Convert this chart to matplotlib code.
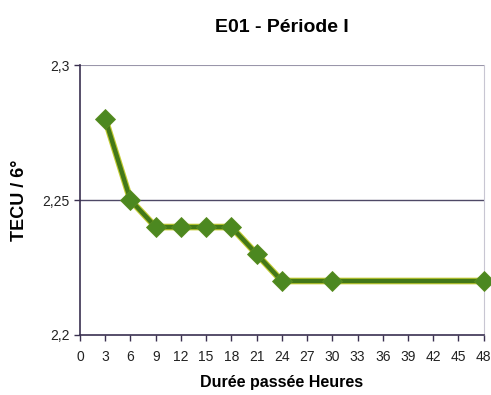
import matplotlib.pyplot as plt
import matplotlib.patheffects as pe

plt.rcParams['font.family'] = ['Liberation Sans', 'DejaVu Sans']

# TECU values over the elapsed hours
heures = [3, 6, 9, 12, 15, 18, 21, 24, 30, 48]
tecu = [2.28, 2.25, 2.24, 2.24, 2.24, 2.24, 2.23, 2.22, 2.22, 2.22]
x_ticks = list(range(0, 49, 3))
y_ticks = [2.2, 2.25, 2.3]
y_labels = ["2,2", "2,25", "2,3"]

fig = plt.figure(figsize=(4.91, 3.95), dpi=100)
ax = fig.add_axes([0.163, 0.152, 0.822, 0.683])

ax.axhline(2.25, color="#4e4866", lw=1.0, zorder=1)
ax.axhline(2.3, color="#9a96aa", lw=0.8, zorder=1)

# line with a thin yellowish rim, then plain diamonds on top
ax.plot(heures, tecu, color="#437818", lw=3.2, zorder=3, clip_on=False,
        path_effects=[pe.Stroke(linewidth=4.8, foreground="#c4cc34"), pe.Normal()])
ax.plot(heures, tecu, ls="none", marker="D", ms=10,
        markerfacecolor="#4c8820", markeredgecolor="#5a8c20", markeredgewidth=0.6,
        zorder=4, clip_on=False)

ax.set_xlim(0, 48)
ax.set_ylim(2.2, 2.3)
ax.set_xticks(x_ticks)
ax.set_yticks(y_ticks)
ax.set_yticklabels(y_labels)
ax.tick_params(axis="both", labelsize=10, length=4, color="#3a3050", width=1)
ax.tick_params(axis="x", pad=7)
for lbl in ax.get_xticklabels() + ax.get_yticklabels():
    lbl.set_color("#222222")

ax.spines["top"].set_visible(False)
ax.spines["right"].set_color("#c8c6d2")
ax.spines["right"].set_linewidth(0.8)
for side in ["left", "bottom"]:
    ax.spines[side].set_color("#3a3050")
    ax.spines[side].set_linewidth(1.2)

ax.set_title("E01 - Période I", fontsize=14, fontweight="bold", pad=24)
ax.set_ylabel("TECU / 6°", fontsize=13, fontweight="bold", labelpad=10)
ax.set_xlabel("Durée passée Heures", fontsize=11.5, fontweight="bold", labelpad=8)

fig.savefig("out.png", dpi=100)
